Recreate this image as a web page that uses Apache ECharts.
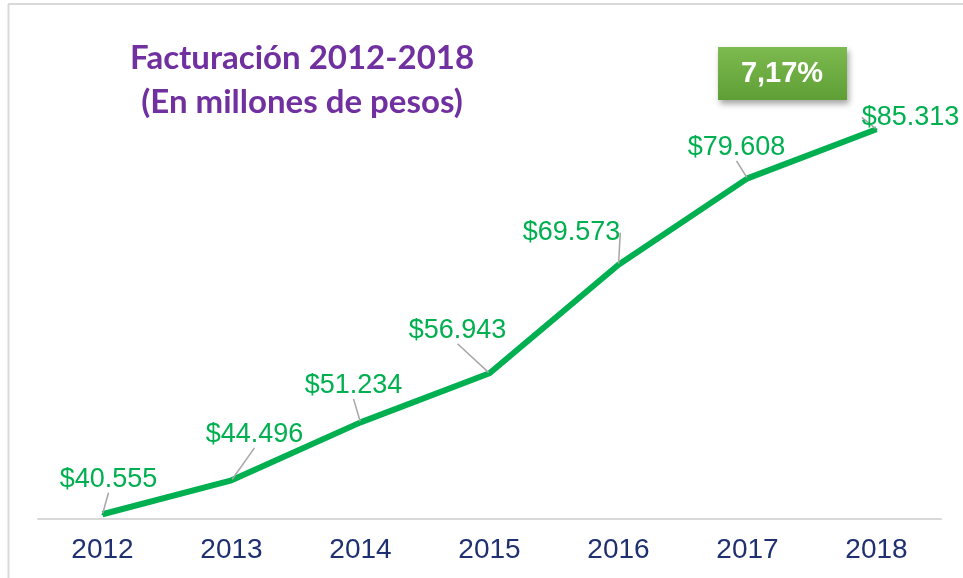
<!DOCTYPE html>
<html>
<head>
<meta charset="utf-8">
<title>Facturación 2012-2018</title>
<script src="https://cdn.jsdelivr.net/npm/echarts@6/dist/echarts.min.js"></script>
<style>
  html, body { margin: 0; padding: 0; background: #fff; }
  #chart { width: 963px; height: 578px; }
</style>
</head>
<body>
<div id="chart"></div>
<script>
  var years = ['2012', '2013', '2014', '2015', '2016', '2017', '2018'];
  var ventas = [40555, 44496, 51234, 56943, 69573, 79608, 85313];
  var crecimiento = '7,17%';

  // where each value label sits relative to its point (dx, dy)
  var labelOffsets = [[6, -35], [23, -46], [-7, -37], [-32, -43], [-47, -32], [-11, -31], [34, -12]];

  function fmt(v) {
    return '$' + String(v).replace(/\B(?=(\d{3})+(?!\d))/g, '.');
  }

  var myChart = echarts.init(document.getElementById('chart'));

  var option = {
    animation: false,
    title: {
      text: 'Facturación 2012-2018\n(En millones de pesos)',
      left: 297,
      top: 31,
      textAlign: 'center',
      textStyle: {
        color: '#7030a0',
        fontFamily: 'Lato',
        fontWeight: 'bold',
        fontSize: 33,
        lineHeight: 44
      }
    },
    grid: { left: 38, right: 22, top: 89, bottom: 59 },
    xAxis: {
      type: 'category',
      data: years,
      axisLine: { lineStyle: { color: '#d9d9d9', width: 2 } },
      axisTick: { show: false },
      axisLabel: {
        color: '#1f3070',
        fontFamily: 'Liberation Sans, Arial',
        fontSize: 28,
        margin: 17
      }
    },
    yAxis: {
      type: 'value',
      min: 40000,
      max: 90000,
      show: false,
      splitLine: { show: false }
    },
    series: [{
      type: 'line',
      data: ventas,
      symbol: 'circle',
      symbolSize: 2,
      itemStyle: { color: '#00b050' },
      lineStyle: { color: '#00b050', width: 6 },
      label: {
        show: true,
        color: '#00b050',
        fontFamily: 'Liberation Sans, Arial',
        fontSize: 27,
        position: 'inside',
        formatter: function (p) { return fmt(p.value); }
      },
      labelLine: {
        show: true,
        lineStyle: { color: '#a6a6a6', width: 1.5 }
      },
      labelLayout: function (params) {
        var o = labelOffsets[params.dataIndex];
        return { dx: o[0], dy: o[1] };
      }
    }],
    graphic: [
      { type: 'line', shape: { x1: 8.5, y1: 4, x2: 8.5, y2: 578 }, style: { stroke: '#d9d9d9', lineWidth: 2 } },
      { type: 'line', shape: { x1: 8, y1: 4, x2: 963, y2: 4 }, style: { stroke: '#d9d9d9', lineWidth: 2 } },
      {
        type: 'rect',
        shape: { x: 718, y: 47, width: 129, height: 53 },
        style: {
          fill: new echarts.graphic.LinearGradient(0, 0, 0, 1, [
            { offset: 0, color: '#7dba4f' },
            { offset: 1, color: '#5e9f35' }
          ]),
          shadowBlur: 6,
          shadowOffsetX: 2,
          shadowOffsetY: 4,
          shadowColor: 'rgba(0,0,0,0.35)'
        }
      },
      {
        type: 'text',
        x: 782, y: 74,
        style: {
          text: crecimiento,
          fill: '#fff',
          font: 'bold 29px "Liberation Sans", Arial',
          align: 'center',
          verticalAlign: 'middle'
        }
      }
    ]
  };

  if (option && typeof option === "object") {
    myChart.setOption(option, true);
  }
  window.onresize = function () {
    myChart.resize();
  };
</script>
</body>
</html>
